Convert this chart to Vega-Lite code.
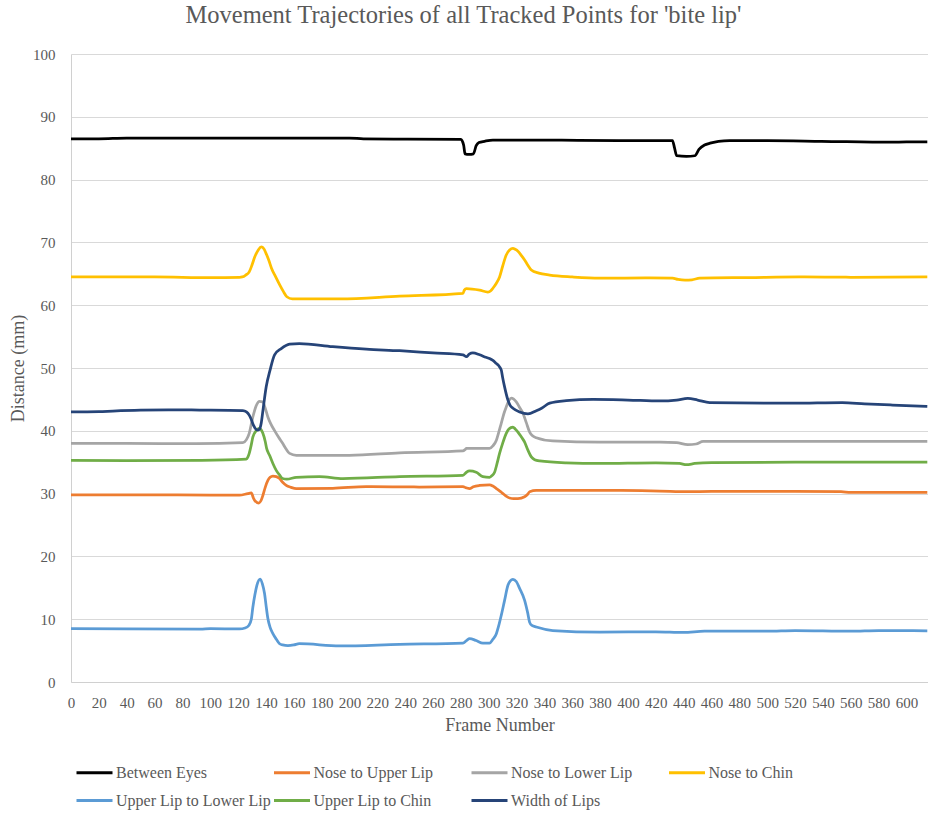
{
"$schema": "https://vega.github.io/schema/vega-lite/v6.json",
"width": 857, "height": 628,
"autosize": {"type": "none"},
"padding": {"left": 71, "top": 54, "right": 0, "bottom": 131},
"background": "white",
"config": {"view": {"stroke": null}, "font": "Liberation Serif"},
"title": {"text": "Movement Trajectories of all Tracked Points for 'bite lip'", "font": "Liberation Serif", "fontSize": 24.5, "fontWeight": "normal", "color": "#595959", "anchor": "middle", "dx": -36, "offset": 19},
"data": {"values": [
{"s":"Between Eyes","f":0,"v":86.5},{"s":"Between Eyes","f":20,"v":86.5},{"s":"Between Eyes","f":40,"v":86.6},{"s":"Between Eyes","f":100,"v":86.6},{"s":"Between Eyes","f":200,"v":86.6},{"s":"Between Eyes","f":210,"v":86.5},{"s":"Between Eyes","f":236,"v":86.45},{"s":"Between Eyes","f":280,"v":86.4},{"s":"Between Eyes","f":282,"v":85.5},{"s":"Between Eyes","f":283,"v":84.1},{"s":"Between Eyes","f":286,"v":84.0},{"s":"Between Eyes","f":289,"v":84.1},{"s":"Between Eyes","f":291,"v":85.4},{"s":"Between Eyes","f":293,"v":85.9},{"s":"Between Eyes","f":297,"v":86.1},{"s":"Between Eyes","f":303,"v":86.3},{"s":"Between Eyes","f":330,"v":86.3},{"s":"Between Eyes","f":364,"v":86.25},{"s":"Between Eyes","f":400,"v":86.2},{"s":"Between Eyes","f":432,"v":86.2},{"s":"Between Eyes","f":433.5,"v":85.0},{"s":"Between Eyes","f":435,"v":83.8},{"s":"Between Eyes","f":442,"v":83.7},{"s":"Between Eyes","f":448,"v":83.8},{"s":"Between Eyes","f":451,"v":84.8},{"s":"Between Eyes","f":455,"v":85.5},{"s":"Between Eyes","f":459,"v":85.8},{"s":"Between Eyes","f":465,"v":86.1},{"s":"Between Eyes","f":473,"v":86.2},{"s":"Between Eyes","f":500,"v":86.2},{"s":"Between Eyes","f":539,"v":86.1},{"s":"Between Eyes","f":589,"v":85.95},{"s":"Between Eyes","f":600,"v":86.0},{"s":"Between Eyes","f":615,"v":86.0},

{"s":"Nose to Upper Lip","f":0,"v":29.8},{"s":"Nose to Upper Lip","f":60,"v":29.8},{"s":"Nose to Upper Lip","f":100,"v":29.75},{"s":"Nose to Upper Lip","f":121,"v":29.75},{"s":"Nose to Upper Lip","f":127,"v":30.0},{"s":"Nose to Upper Lip","f":129.5,"v":30.1},{"s":"Nose to Upper Lip","f":131,"v":29.3},{"s":"Nose to Upper Lip","f":132,"v":28.9},{"s":"Nose to Upper Lip","f":135,"v":28.5},{"s":"Nose to Upper Lip","f":136.5,"v":28.9},{"s":"Nose to Upper Lip","f":137.8,"v":29.7},{"s":"Nose to Upper Lip","f":139.5,"v":31.0},{"s":"Nose to Upper Lip","f":141.4,"v":32.1},{"s":"Nose to Upper Lip","f":143,"v":32.6},{"s":"Nose to Upper Lip","f":145,"v":32.8},{"s":"Nose to Upper Lip","f":147.5,"v":32.7},{"s":"Nose to Upper Lip","f":149.8,"v":32.4},{"s":"Nose to Upper Lip","f":152,"v":31.8},{"s":"Nose to Upper Lip","f":154.6,"v":31.3},{"s":"Nose to Upper Lip","f":158,"v":31.0},{"s":"Nose to Upper Lip","f":161.8,"v":30.8},{"s":"Nose to Upper Lip","f":188,"v":30.85},{"s":"Nose to Upper Lip","f":212,"v":31.1},{"s":"Nose to Upper Lip","f":250,"v":31.05},{"s":"Nose to Upper Lip","f":281.5,"v":31.1},{"s":"Nose to Upper Lip","f":284,"v":30.9},{"s":"Nose to Upper Lip","f":286.3,"v":30.8},{"s":"Nose to Upper Lip","f":289,"v":31.1},{"s":"Nose to Upper Lip","f":293.5,"v":31.3},{"s":"Nose to Upper Lip","f":300.6,"v":31.4},{"s":"Nose to Upper Lip","f":303,"v":31.2},{"s":"Nose to Upper Lip","f":305.5,"v":30.8},{"s":"Nose to Upper Lip","f":308,"v":30.4},{"s":"Nose to Upper Lip","f":310.2,"v":30.0},{"s":"Nose to Upper Lip","f":312.5,"v":29.6},{"s":"Nose to Upper Lip","f":315,"v":29.3},{"s":"Nose to Upper Lip","f":318,"v":29.2},{"s":"Nose to Upper Lip","f":321,"v":29.2},{"s":"Nose to Upper Lip","f":325.8,"v":29.5},{"s":"Nose to Upper Lip","f":328,"v":29.9},{"s":"Nose to Upper Lip","f":329.4,"v":30.3},{"s":"Nose to Upper Lip","f":334.2,"v":30.5},{"s":"Nose to Upper Lip","f":380,"v":30.5},{"s":"Nose to Upper Lip","f":395,"v":30.5},{"s":"Nose to Upper Lip","f":423,"v":30.4},{"s":"Nose to Upper Lip","f":443,"v":30.3},{"s":"Nose to Upper Lip","f":460,"v":30.35},{"s":"Nose to Upper Lip","f":520,"v":30.35},{"s":"Nose to Upper Lip","f":553,"v":30.3},{"s":"Nose to Upper Lip","f":560,"v":30.2},{"s":"Nose to Upper Lip","f":615,"v":30.2},

{"s":"Nose to Lower Lip","f":0,"v":38.0},{"s":"Nose to Lower Lip","f":40,"v":38.0},{"s":"Nose to Lower Lip","f":90,"v":37.95},{"s":"Nose to Lower Lip","f":123.4,"v":38.1},{"s":"Nose to Lower Lip","f":126,"v":38.6},{"s":"Nose to Lower Lip","f":128,"v":39.6},{"s":"Nose to Lower Lip","f":130.6,"v":42.2},{"s":"Nose to Lower Lip","f":133,"v":44.0},{"s":"Nose to Lower Lip","f":135.4,"v":44.7},{"s":"Nose to Lower Lip","f":137.8,"v":44.6},{"s":"Nose to Lower Lip","f":139.5,"v":43.6},{"s":"Nose to Lower Lip","f":141.4,"v":42.2},{"s":"Nose to Lower Lip","f":143.5,"v":41.1},{"s":"Nose to Lower Lip","f":146,"v":40.1},{"s":"Nose to Lower Lip","f":149,"v":39.0},{"s":"Nose to Lower Lip","f":152,"v":38.0},{"s":"Nose to Lower Lip","f":154.5,"v":37.1},{"s":"Nose to Lower Lip","f":157,"v":36.4},{"s":"Nose to Lower Lip","f":161.8,"v":36.1},{"s":"Nose to Lower Lip","f":200,"v":36.1},{"s":"Nose to Lower Lip","f":236,"v":36.5},{"s":"Nose to Lower Lip","f":281.5,"v":36.8},{"s":"Nose to Lower Lip","f":283,"v":37.0},{"s":"Nose to Lower Lip","f":284,"v":37.2},{"s":"Nose to Lower Lip","f":300.6,"v":37.2},{"s":"Nose to Lower Lip","f":303,"v":37.6},{"s":"Nose to Lower Lip","f":305.5,"v":38.5},{"s":"Nose to Lower Lip","f":307,"v":39.6},{"s":"Nose to Lower Lip","f":309,"v":41.2},{"s":"Nose to Lower Lip","f":311,"v":42.8},{"s":"Nose to Lower Lip","f":312.6,"v":43.8},{"s":"Nose to Lower Lip","f":314.5,"v":44.8},{"s":"Nose to Lower Lip","f":316.2,"v":45.2},{"s":"Nose to Lower Lip","f":319.8,"v":44.6},{"s":"Nose to Lower Lip","f":322,"v":43.8},{"s":"Nose to Lower Lip","f":324.6,"v":42.8},{"s":"Nose to Lower Lip","f":327,"v":41.3},{"s":"Nose to Lower Lip","f":329.4,"v":39.8},{"s":"Nose to Lower Lip","f":331.5,"v":39.2},{"s":"Nose to Lower Lip","f":334.2,"v":38.9},{"s":"Nose to Lower Lip","f":346,"v":38.4},{"s":"Nose to Lower Lip","f":379.7,"v":38.2},{"s":"Nose to Lower Lip","f":423,"v":38.2},{"s":"Nose to Lower Lip","f":435,"v":38.1},{"s":"Nose to Lower Lip","f":443,"v":37.8},{"s":"Nose to Lower Lip","f":449,"v":37.9},{"s":"Nose to Lower Lip","f":454,"v":38.3},{"s":"Nose to Lower Lip","f":500,"v":38.3},{"s":"Nose to Lower Lip","f":560,"v":38.3},{"s":"Nose to Lower Lip","f":615,"v":38.3},

{"s":"Nose to Chin","f":0,"v":64.5},{"s":"Nose to Chin","f":60,"v":64.5},{"s":"Nose to Chin","f":100,"v":64.4},{"s":"Nose to Chin","f":121,"v":64.45},{"s":"Nose to Chin","f":123,"v":64.5},{"s":"Nose to Chin","f":125.5,"v":64.8},{"s":"Nose to Chin","f":128,"v":65.3},{"s":"Nose to Chin","f":130,"v":66.4},{"s":"Nose to Chin","f":132,"v":67.7},{"s":"Nose to Chin","f":134.5,"v":68.8},{"s":"Nose to Chin","f":136.6,"v":69.3},{"s":"Nose to Chin","f":138.5,"v":69.0},{"s":"Nose to Chin","f":140,"v":68.3},{"s":"Nose to Chin","f":142,"v":67.2},{"s":"Nose to Chin","f":144,"v":65.9},{"s":"Nose to Chin","f":147,"v":64.5},{"s":"Nose to Chin","f":150,"v":63.2},{"s":"Nose to Chin","f":152.5,"v":62.2},{"s":"Nose to Chin","f":155,"v":61.35},{"s":"Nose to Chin","f":159,"v":61.0},{"s":"Nose to Chin","f":193,"v":61.0},{"s":"Nose to Chin","f":236,"v":61.45},{"s":"Nose to Chin","f":281.5,"v":61.9},{"s":"Nose to Chin","f":282.5,"v":62.4},{"s":"Nose to Chin","f":284,"v":62.65},{"s":"Nose to Chin","f":293.5,"v":62.4},{"s":"Nose to Chin","f":299.4,"v":62.1},{"s":"Nose to Chin","f":301.5,"v":62.3},{"s":"Nose to Chin","f":303,"v":62.7},{"s":"Nose to Chin","f":305.5,"v":63.5},{"s":"Nose to Chin","f":307.8,"v":64.5},{"s":"Nose to Chin","f":310,"v":66.2},{"s":"Nose to Chin","f":312.6,"v":68.0},{"s":"Nose to Chin","f":315,"v":68.8},{"s":"Nose to Chin","f":317.4,"v":69.05},{"s":"Nose to Chin","f":319,"v":68.9},{"s":"Nose to Chin","f":321,"v":68.6},{"s":"Nose to Chin","f":323.5,"v":67.9},{"s":"Nose to Chin","f":325.8,"v":67.2},{"s":"Nose to Chin","f":328,"v":66.4},{"s":"Nose to Chin","f":330.6,"v":65.6},{"s":"Nose to Chin","f":336,"v":65.1},{"s":"Nose to Chin","f":343.8,"v":64.8},{"s":"Nose to Chin","f":360,"v":64.5},{"s":"Nose to Chin","f":379.7,"v":64.3},{"s":"Nose to Chin","f":415.6,"v":64.35},{"s":"Nose to Chin","f":432,"v":64.3},{"s":"Nose to Chin","f":436,"v":64.1},{"s":"Nose to Chin","f":441,"v":64.0},{"s":"Nose to Chin","f":446,"v":64.05},{"s":"Nose to Chin","f":451.5,"v":64.3},{"s":"Nose to Chin","f":487,"v":64.4},{"s":"Nose to Chin","f":523,"v":64.5},{"s":"Nose to Chin","f":560,"v":64.45},{"s":"Nose to Chin","f":615,"v":64.5},

{"s":"Upper Lip to Lower Lip","f":0,"v":8.5},{"s":"Upper Lip to Lower Lip","f":40,"v":8.45},{"s":"Upper Lip to Lower Lip","f":93,"v":8.4},{"s":"Upper Lip to Lower Lip","f":100,"v":8.5},{"s":"Upper Lip to Lower Lip","f":121,"v":8.45},{"s":"Upper Lip to Lower Lip","f":125,"v":8.6},{"s":"Upper Lip to Lower Lip","f":127.7,"v":9.0},{"s":"Upper Lip to Lower Lip","f":129.5,"v":10.0},{"s":"Upper Lip to Lower Lip","f":130.6,"v":11.9},{"s":"Upper Lip to Lower Lip","f":132,"v":13.8},{"s":"Upper Lip to Lower Lip","f":133.5,"v":15.4},{"s":"Upper Lip to Lower Lip","f":135.9,"v":16.4},{"s":"Upper Lip to Lower Lip","f":137.5,"v":15.6},{"s":"Upper Lip to Lower Lip","f":139,"v":14.1},{"s":"Upper Lip to Lower Lip","f":140.2,"v":12.0},{"s":"Upper Lip to Lower Lip","f":141.4,"v":10.1},{"s":"Upper Lip to Lower Lip","f":143,"v":8.7},{"s":"Upper Lip to Lower Lip","f":145,"v":7.7},{"s":"Upper Lip to Lower Lip","f":147.5,"v":6.8},{"s":"Upper Lip to Lower Lip","f":149.8,"v":6.1},{"s":"Upper Lip to Lower Lip","f":152,"v":5.9},{"s":"Upper Lip to Lower Lip","f":155.8,"v":5.8},{"s":"Upper Lip to Lower Lip","f":160,"v":5.9},{"s":"Upper Lip to Lower Lip","f":164,"v":6.1},{"s":"Upper Lip to Lower Lip","f":193,"v":5.75},{"s":"Upper Lip to Lower Lip","f":236,"v":6.0},{"s":"Upper Lip to Lower Lip","f":281.5,"v":6.2},{"s":"Upper Lip to Lower Lip","f":284,"v":6.6},{"s":"Upper Lip to Lower Lip","f":286.3,"v":6.9},{"s":"Upper Lip to Lower Lip","f":291,"v":6.6},{"s":"Upper Lip to Lower Lip","f":295.8,"v":6.2},{"s":"Upper Lip to Lower Lip","f":300.6,"v":6.2},{"s":"Upper Lip to Lower Lip","f":303,"v":6.8},{"s":"Upper Lip to Lower Lip","f":305.5,"v":7.7},{"s":"Upper Lip to Lower Lip","f":307,"v":8.8},{"s":"Upper Lip to Lower Lip","f":309,"v":10.6},{"s":"Upper Lip to Lower Lip","f":311.4,"v":13.0},{"s":"Upper Lip to Lower Lip","f":313.8,"v":15.4},{"s":"Upper Lip to Lower Lip","f":315.5,"v":16.1},{"s":"Upper Lip to Lower Lip","f":317.4,"v":16.35},{"s":"Upper Lip to Lower Lip","f":319.8,"v":16.0},{"s":"Upper Lip to Lower Lip","f":322.2,"v":14.9},{"s":"Upper Lip to Lower Lip","f":325.8,"v":13.0},{"s":"Upper Lip to Lower Lip","f":328,"v":11.0},{"s":"Upper Lip to Lower Lip","f":329.4,"v":9.5},{"s":"Upper Lip to Lower Lip","f":331,"v":9.0},{"s":"Upper Lip to Lower Lip","f":334.2,"v":8.75},{"s":"Upper Lip to Lower Lip","f":346,"v":8.2},{"s":"Upper Lip to Lower Lip","f":379.7,"v":7.95},{"s":"Upper Lip to Lower Lip","f":420,"v":8.0},{"s":"Upper Lip to Lower Lip","f":440,"v":7.9},{"s":"Upper Lip to Lower Lip","f":455,"v":8.1},{"s":"Upper Lip to Lower Lip","f":500,"v":8.1},{"s":"Upper Lip to Lower Lip","f":520,"v":8.2},{"s":"Upper Lip to Lower Lip","f":560,"v":8.1},{"s":"Upper Lip to Lower Lip","f":580,"v":8.2},{"s":"Upper Lip to Lower Lip","f":615,"v":8.15},

{"s":"Upper Lip to Chin","f":0,"v":35.3},{"s":"Upper Lip to Chin","f":40,"v":35.25},{"s":"Upper Lip to Chin","f":93.8,"v":35.3},{"s":"Upper Lip to Chin","f":125.9,"v":35.5},{"s":"Upper Lip to Chin","f":127,"v":35.8},{"s":"Upper Lip to Chin","f":128,"v":36.4},{"s":"Upper Lip to Chin","f":129.5,"v":37.8},{"s":"Upper Lip to Chin","f":130.6,"v":39.0},{"s":"Upper Lip to Chin","f":133,"v":40.0},{"s":"Upper Lip to Chin","f":135,"v":40.4},{"s":"Upper Lip to Chin","f":136.5,"v":40.2},{"s":"Upper Lip to Chin","f":137.8,"v":39.6},{"s":"Upper Lip to Chin","f":139.5,"v":38.3},{"s":"Upper Lip to Chin","f":140.5,"v":37.2},{"s":"Upper Lip to Chin","f":142.6,"v":36.1},{"s":"Upper Lip to Chin","f":145,"v":34.8},{"s":"Upper Lip to Chin","f":147.4,"v":33.7},{"s":"Upper Lip to Chin","f":150,"v":32.9},{"s":"Upper Lip to Chin","f":152,"v":32.4},{"s":"Upper Lip to Chin","f":155,"v":32.3},{"s":"Upper Lip to Chin","f":161.8,"v":32.6},{"s":"Upper Lip to Chin","f":178.5,"v":32.7},{"s":"Upper Lip to Chin","f":195.3,"v":32.4},{"s":"Upper Lip to Chin","f":236,"v":32.7},{"s":"Upper Lip to Chin","f":281.5,"v":32.9},{"s":"Upper Lip to Chin","f":284,"v":33.4},{"s":"Upper Lip to Chin","f":286.3,"v":33.6},{"s":"Upper Lip to Chin","f":291,"v":33.4},{"s":"Upper Lip to Chin","f":295.8,"v":32.7},{"s":"Upper Lip to Chin","f":300.6,"v":32.6},{"s":"Upper Lip to Chin","f":302.5,"v":32.9},{"s":"Upper Lip to Chin","f":304.2,"v":33.4},{"s":"Upper Lip to Chin","f":306,"v":34.8},{"s":"Upper Lip to Chin","f":307.8,"v":36.4},{"s":"Upper Lip to Chin","f":310,"v":38.0},{"s":"Upper Lip to Chin","f":312.6,"v":39.6},{"s":"Upper Lip to Chin","f":314.5,"v":40.3},{"s":"Upper Lip to Chin","f":317.4,"v":40.6},{"s":"Upper Lip to Chin","f":319,"v":40.3},{"s":"Upper Lip to Chin","f":321,"v":39.8},{"s":"Upper Lip to Chin","f":323.5,"v":39.0},{"s":"Upper Lip to Chin","f":325.8,"v":38.2},{"s":"Upper Lip to Chin","f":328,"v":37.0},{"s":"Upper Lip to Chin","f":330.6,"v":35.85},{"s":"Upper Lip to Chin","f":333,"v":35.4},{"s":"Upper Lip to Chin","f":336.6,"v":35.2},{"s":"Upper Lip to Chin","f":355.7,"v":34.9},{"s":"Upper Lip to Chin","f":379.7,"v":34.8},{"s":"Upper Lip to Chin","f":420,"v":34.9},{"s":"Upper Lip to Chin","f":437,"v":34.8},{"s":"Upper Lip to Chin","f":442,"v":34.6},{"s":"Upper Lip to Chin","f":448,"v":34.8},{"s":"Upper Lip to Chin","f":460,"v":34.95},{"s":"Upper Lip to Chin","f":520,"v":35.0},{"s":"Upper Lip to Chin","f":615,"v":35.0},

{"s":"Width of Lips","f":0,"v":43.0},{"s":"Width of Lips","f":20,"v":43.05},{"s":"Width of Lips","f":30,"v":43.15},{"s":"Width of Lips","f":50,"v":43.3},{"s":"Width of Lips","f":70,"v":43.35},{"s":"Width of Lips","f":92.3,"v":43.3},{"s":"Width of Lips","f":123.4,"v":43.2},{"s":"Width of Lips","f":126,"v":43.0},{"s":"Width of Lips","f":128,"v":42.5},{"s":"Width of Lips","f":129.5,"v":41.8},{"s":"Width of Lips","f":131,"v":40.9},{"s":"Width of Lips","f":134.2,"v":40.1},{"s":"Width of Lips","f":135.5,"v":40.3},{"s":"Width of Lips","f":136.6,"v":41.2},{"s":"Width of Lips","f":138,"v":43.5},{"s":"Width of Lips","f":140.2,"v":47.0},{"s":"Width of Lips","f":143,"v":49.7},{"s":"Width of Lips","f":146.2,"v":52.1},{"s":"Width of Lips","f":151,"v":53.1},{"s":"Width of Lips","f":157,"v":53.8},{"s":"Width of Lips","f":164,"v":53.9},{"s":"Width of Lips","f":188,"v":53.4},{"s":"Width of Lips","f":212,"v":53.0},{"s":"Width of Lips","f":236,"v":52.75},{"s":"Width of Lips","f":260,"v":52.4},{"s":"Width of Lips","f":281.5,"v":52.1},{"s":"Width of Lips","f":284,"v":51.8},{"s":"Width of Lips","f":286,"v":52.2},{"s":"Width of Lips","f":288.6,"v":52.4},{"s":"Width of Lips","f":293.5,"v":52.1},{"s":"Width of Lips","f":298,"v":51.7},{"s":"Width of Lips","f":300.6,"v":51.5},{"s":"Width of Lips","f":303,"v":51.2},{"s":"Width of Lips","f":305.5,"v":50.7},{"s":"Width of Lips","f":307,"v":50.4},{"s":"Width of Lips","f":309,"v":49.7},{"s":"Width of Lips","f":310,"v":48.5},{"s":"Width of Lips","f":311.4,"v":47.0},{"s":"Width of Lips","f":313.8,"v":44.9},{"s":"Width of Lips","f":315.5,"v":44.0},{"s":"Width of Lips","f":317.4,"v":43.6},{"s":"Width of Lips","f":322.2,"v":43.0},{"s":"Width of Lips","f":328.2,"v":42.7},{"s":"Width of Lips","f":334.2,"v":43.2},{"s":"Width of Lips","f":338,"v":43.6},{"s":"Width of Lips","f":343.8,"v":44.4},{"s":"Width of Lips","f":355.7,"v":44.8},{"s":"Width of Lips","f":375,"v":45.0},{"s":"Width of Lips","f":400,"v":44.9},{"s":"Width of Lips","f":423,"v":44.75},{"s":"Width of Lips","f":435,"v":44.9},{"s":"Width of Lips","f":443,"v":45.15},{"s":"Width of Lips","f":450,"v":44.9},{"s":"Width of Lips","f":458.7,"v":44.5},{"s":"Width of Lips","f":518,"v":44.4},{"s":"Width of Lips","f":554,"v":44.5},{"s":"Width of Lips","f":570,"v":44.3},{"s":"Width of Lips","f":590,"v":44.1},{"s":"Width of Lips","f":615,"v":43.9}
]},
"mark": {"type": "line", "interpolate": "monotone", "strokeWidth": 2.75},
"encoding": {
  "x": {"field": "f", "type": "quantitative",
    "scale": {"domain": [0, 615.5], "nice": false, "zero": false},
    "axis": {"values": [0,20,40,60,80,100,120,140,160,180,200,220,240,260,280,300,320,340,360,380,400,420,440,460,480,500,520,540,560,580,600],
      "grid": false, "domain": true, "domainColor": "#d0d0d0", "domainWidth": 1, "ticks": false,
      "labelFont": "Liberation Serif", "labelFontSize": 15, "labelColor": "#595959", "labelPadding": 13, "labelOverlap": false, "labelFlush": false,
      "title": "Frame Number", "titleFont": "Liberation Serif", "titleFontSize": 18, "titleFontWeight": "normal", "titleColor": "#595959", "titleY": 43, "titleBaseline": "middle"}},
  "y": {"field": "v", "type": "quantitative",
    "scale": {"domain": [0, 100], "nice": false},
    "axis": {"values": [0,10,20,30,40,50,60,70,80,90,100],
      "grid": true, "gridColor": "#d9d9d9", "gridWidth": 1, "domain": true, "domainColor": "#d0d0d0", "ticks": false,
      "labelFont": "Liberation Serif", "labelFontSize": 15, "labelColor": "#595959", "labelPadding": 16, "labelFlush": false,
      "title": "Distance (mm)", "titleFont": "Liberation Serif", "titleFontSize": 18, "titleFontWeight": "normal", "titleColor": "#595959", "titleX": -53, "titleY": 314, "titleBaseline": "middle"}},
  "color": {"field": "s", "type": "nominal",
    "scale": {"domain": ["Between Eyes","Nose to Upper Lip","Nose to Lower Lip","Nose to Chin","Upper Lip to Lower Lip","Upper Lip to Chin","Width of Lips"],
      "range": ["#000000","#ED7D31","#A5A5A5","#FFC000","#5B9BD5","#70AD47","#264478"]},
    "legend": {"title": null, "orient": "none", "legendX": 4, "legendY": 699, "direction": "horizontal", "columns": 4,
      "symbolType": "stroke", "symbolSize": 1296, "symbolStrokeWidth": 3,
      "labelFont": "Liberation Serif", "labelFontSize": 16, "labelColor": "#595959", "labelOffset": 2, "labelLimit": 300,
      "columnPadding": -3.5, "rowPadding": -8, "gridAlign": "all", "padding": 0}}
}
}
